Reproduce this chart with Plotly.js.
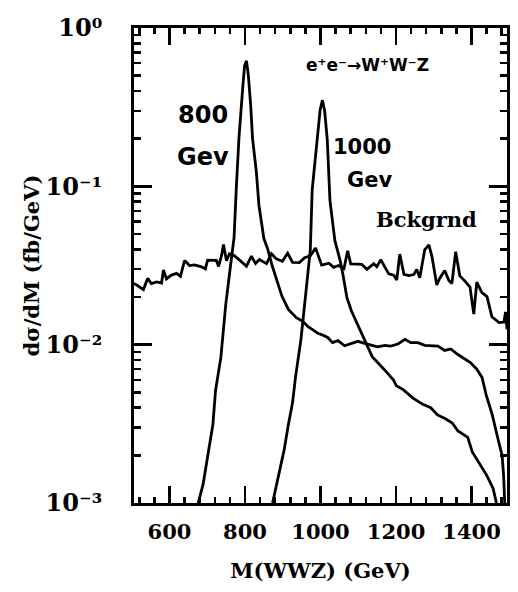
<!DOCTYPE html>
<html>
<head>
<meta charset="utf-8">
<script src="https://cdn.plot.ly/plotly-3.0.1.min.js"></script>
<style>
  html, body { margin: 0; padding: 0; background: #ffffff; }
  #chart { width: 518px; height: 592px; }
</style>
</head>
<body>
<div id="chart"></div>
<script>
// ---- Data ----
const bkgMass = [506, 515, 531, 542, 552, 566, 579, 584, 592, 605, 619, 629, 640, 653, 666, 685, 695, 701, 714, 724, 730, 738, 743, 751, 759, 772, 785, 804, 817, 828, 838, 857, 870, 883, 899, 913, 926, 944, 958, 973, 987, 1003, 1022, 1035, 1048, 1062, 1072, 1080, 1096, 1109, 1123, 1141, 1149, 1160, 1170, 1181, 1194, 1202, 1210, 1221, 1234, 1247, 1255, 1263, 1276, 1287, 1295, 1308, 1316, 1329, 1340, 1348, 1358, 1369, 1382, 1396, 1406, 1414, 1427, 1441, 1454, 1473, 1486, 1490, 1494];
const bkgXsec = [0.0244, 0.0237, 0.0223, 0.0262, 0.0243, 0.0249, 0.0245, 0.0296, 0.0260, 0.0275, 0.0282, 0.0270, 0.0340, 0.0316, 0.0319, 0.0310, 0.0301, 0.0342, 0.0341, 0.0341, 0.0312, 0.0366, 0.0429, 0.0339, 0.0375, 0.0364, 0.0343, 0.0313, 0.0362, 0.0326, 0.0345, 0.0325, 0.0375, 0.0348, 0.0336, 0.0378, 0.0331, 0.0330, 0.0354, 0.0364, 0.0408, 0.0318, 0.0327, 0.0308, 0.0316, 0.0302, 0.0392, 0.0324, 0.0323, 0.0322, 0.0299, 0.0325, 0.0311, 0.0344, 0.0310, 0.0280, 0.0275, 0.0256, 0.0373, 0.0278, 0.0273, 0.0277, 0.0298, 0.0265, 0.0397, 0.0427, 0.0363, 0.0238, 0.0263, 0.0294, 0.0254, 0.0243, 0.0386, 0.0272, 0.0253, 0.0231, 0.0156, 0.0248, 0.0214, 0.0201, 0.0150, 0.0138, 0.0139, 0.0161, 0.0125];

const sig800Mass = [676, 689, 702, 715, 722, 736, 741, 749, 760, 771, 777, 784, 794, 799, 804, 809, 815, 820, 830, 837, 850, 860, 872, 884, 898, 915, 936, 954, 967, 980, 993, 1006, 1019, 1032, 1046, 1064, 1080, 1099, 1117, 1133, 1151, 1170, 1186, 1205, 1224, 1239, 1258, 1276, 1292, 1311, 1329, 1345, 1363, 1381, 1397, 1414, 1428, 1439, 1455, 1469, 1481, 1485, 1488];
const sig800Xsec = [0.0010, 0.00131, 0.00203, 0.00313, 0.00514, 0.00828, 0.0111, 0.0179, 0.0293, 0.0473, 0.0978, 0.202, 0.418, 0.58, 0.62, 0.50, 0.326, 0.201, 0.124, 0.0757, 0.0468, 0.0403, 0.0315, 0.0260, 0.0202, 0.0167, 0.0148, 0.0140, 0.0130, 0.0124, 0.0118, 0.0115, 0.0111, 0.0103, 0.0106, 0.00984, 0.0101, 0.0105, 0.0102, 0.0100, 0.0097, 0.0099, 0.0098, 0.0101, 0.0108, 0.0103, 0.0103, 0.0099, 0.0099, 0.0098, 0.0092, 0.0094, 0.0087, 0.0081, 0.0077, 0.0070, 0.0062, 0.0048, 0.0036, 0.0026, 0.0020, 0.0015, 0.0010];

const sig1000Mass = [873, 888, 904, 914, 926, 934, 940, 948, 962, 973, 978, 991, 999, 1005, 1011, 1018, 1022, 1025, 1038, 1052, 1059, 1070, 1082, 1100, 1117, 1137, 1168, 1193, 1201, 1219, 1245, 1271, 1292, 1310, 1331, 1349, 1364, 1390, 1402, 1420, 1440, 1457, 1466];
const sig1000Xsec = [0.0010, 0.00148, 0.00218, 0.00304, 0.00431, 0.00628, 0.00803, 0.0107, 0.0222, 0.0397, 0.095, 0.196, 0.304, 0.35, 0.30, 0.196, 0.121, 0.0816, 0.0455, 0.0340, 0.0281, 0.0198, 0.0163, 0.0131, 0.0105, 0.0084, 0.0070, 0.0060, 0.0055, 0.0052, 0.0046, 0.0042, 0.0040, 0.0036, 0.0034, 0.0032, 0.00285, 0.0026, 0.0021, 0.0018, 0.0015, 0.00124, 0.0010];

const xTickVals = [600, 800, 1000, 1200, 1400];
const xTickText = ["600", "800", "1000", "1200", "1400"];
const yTickVals = [0.001, 0.01, 0.1, 1];
const yTickText = ["10\u207B\u00B3", "10\u207B\u00B2", "10\u207B\u00B9", "10\u2070"];

// ---- Plot ----
const lineStyle = { color: "#000000", width: 2.8 };
const traces = [
  { name: "Bckgrnd", x: bkgMass, y: bkgXsec, type: "scatter", mode: "lines", line: lineStyle, xaxis: "x2", yaxis: "y2" },
  { name: "800 GeV", x: sig800Mass, y: sig800Xsec, type: "scatter", mode: "lines", line: lineStyle },
  { name: "1000 GeV", x: sig1000Mass, y: sig1000Xsec, type: "scatter", mode: "lines", line: lineStyle }
];

const serifBold = { family: "DejaVu Serif, serif", size: 21, color: "#000", weight: "bold" };
const handFont = { family: "DejaVu Sans, sans-serif", size: 24, color: "#000", weight: "bold" };
const xRange = [506, 1494];
const yRange = [-3, 0];

function note(text, x, y, font) {
  return { text: text, xref: "paper", yref: "paper", x: x, y: y, xanchor: "center", yanchor: "middle", showarrow: false, font: font };
}

const layout = {
  width: 518,
  height: 592,
  margin: { l: 134, r: 11, t: 28, b: 89 },
  paper_bgcolor: "#ffffff",
  plot_bgcolor: "#ffffff",
  showlegend: false,
  // labelled axes
  xaxis: {
    range: xRange,
    tickvals: xTickVals,
    ticktext: xTickText,
    ticks: "inside",
    ticklen: 17,
    tickwidth: 2.5,
    tickcolor: "#000",
    minor: { dtick: 40, tick0: 0, ticks: "inside", ticklen: 6, tickwidth: 2.5, tickcolor: "#000" },
    showline: true,
    linewidth: 3,
    linecolor: "#000",
    mirror: "allticks",
    showgrid: false,
    zeroline: false,
    tickfont: serifBold,
    ticklabelstandoff: 8,
    title: { text: "M(WWZ) (GeV)", font: serifBold }
  },
  yaxis: {
    type: "log",
    range: yRange,
    tickvals: yTickVals,
    ticktext: yTickText,
    ticks: "inside",
    ticklen: 18,
    tickwidth: 2.5,
    tickcolor: "#000",
    minor: { dtick: "D1", ticks: "inside", ticklen: 7, tickwidth: 2.5, tickcolor: "#000" },
    showline: true,
    linewidth: 3,
    linecolor: "#000",
    mirror: "allticks",
    showgrid: false,
    zeroline: false,
    tickfont: { family: "DejaVu Serif, serif", size: 24, color: "#000", weight: "bold" },
    ticklabelstandoff: 24,
    title: { text: "d\u03c3/dM (fb/GeV)", font: serifBold }
  },
  // plain overlay axes on the same scales, carrying the tick marks
  xaxis2: {
    overlaying: "x",
    anchor: "y2",
    side: "bottom",
    range: xRange,
    tickvals: xTickVals,
    ticks: "inside",
    ticklen: 17,
    tickwidth: 2.5,
    tickcolor: "#000",
    minor: { dtick: 40, tick0: 0, ticks: "inside", ticklen: 6, tickwidth: 2.5, tickcolor: "#000" },
    showline: true,
    linewidth: 3,
    linecolor: "#000",
    mirror: "allticks",
    showgrid: false,
    zeroline: false,
    tickfont: { color: "rgba(0,0,0,0)" }
  },
  yaxis2: {
    overlaying: "y",
    anchor: "x2",
    side: "left",
    type: "log",
    range: yRange,
    tickvals: yTickVals,
    ticks: "inside",
    ticklen: 18,
    tickwidth: 2.5,
    tickcolor: "#000",
    minor: { dtick: "D1", ticks: "inside", ticklen: 7, tickwidth: 2.5, tickcolor: "#000" },
    showline: true,
    linewidth: 3,
    linecolor: "#000",
    mirror: "allticks",
    showgrid: false,
    zeroline: false,
    tickfont: { color: "rgba(0,0,0,0)" }
  },
  annotations: [
    note("800", 0.185, 0.817, handFont),
    note("Gev", 0.185, 0.728, handFont),
    note("1000", 0.61, 0.749, Object.assign({}, handFont, { size: 21 })),
    note("Gev", 0.632, 0.68, Object.assign({}, handFont, { size: 21 })),
    note("Bckgrnd", 0.784, 0.596, serifBold),
    note("e\u207Ae\u207B\u2192W\u207AW\u207BZ", 0.627, 0.922, { family: "DejaVu Sans, sans-serif", size: 17, color: "#000", weight: "bold" })
  ]
};

Plotly.newPlot("chart", traces, layout, { displayModeBar: false, staticPlot: true });
</script>
</body>
</html>
